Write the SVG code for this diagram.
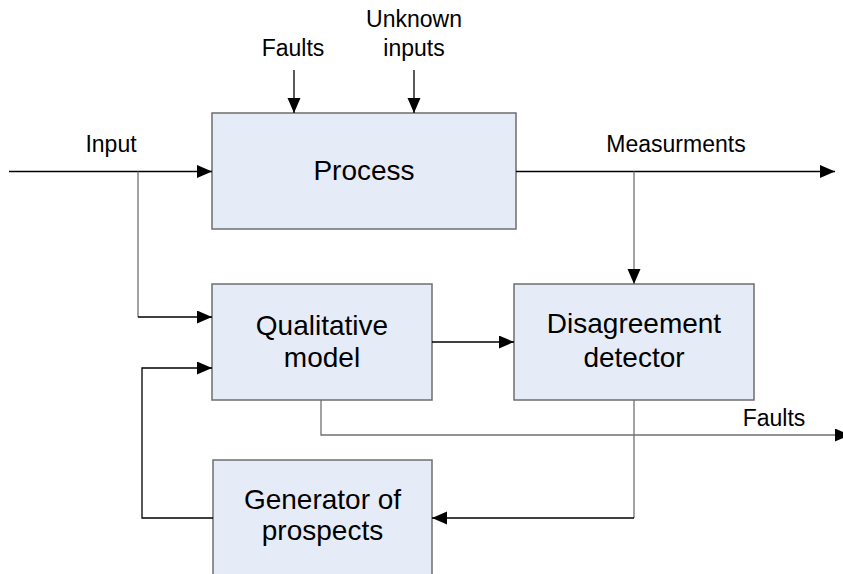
<svg xmlns="http://www.w3.org/2000/svg" width="843" height="574" viewBox="0 0 843 574">
<defs>
<marker id="arr" markerUnits="userSpaceOnUse" markerWidth="16" markerHeight="14" refX="15" refY="6.5" orient="auto">
<path d="M0,0 L15,6.5 L0,13 z" fill="#000"/>
</marker>
</defs>
<style>
.box{fill:#E6ECF7;stroke:#6E6E6E;stroke-width:1.5}
.bl{font-family:"Liberation Sans",Arial,sans-serif;font-size:28px;fill:#000;text-anchor:middle}
.el{font-family:"Liberation Sans",Arial,sans-serif;font-size:23px;fill:#000;text-anchor:middle}
.k{fill:none;stroke:#000;stroke-width:1.3}
.g{fill:none;stroke:#707070;stroke-width:1.3}
</style>
<rect width="843" height="574" fill="#fff"/>
<g id="process">
<rect class="box" x="212" y="113" width="304" height="116"/>
<text class="bl" x="364" y="180">Process</text>
</g>
<g id="qualitative-model">
<rect class="box" x="212" y="284" width="220" height="116"/>
<text class="bl" x="322" y="335">Qualitative</text>
<text class="bl" x="322" y="367">model</text>
</g>
<g id="disagreement-detector">
<rect class="box" x="514" y="284" width="240" height="116"/>
<text class="bl" x="634" y="333">Disagreement</text>
<text class="bl" x="634" y="367">detector</text>
</g>
<g id="generator-of-prospects">
<rect class="box" x="213" y="460" width="219" height="130"/>
<text class="bl" x="322.5" y="509">Generator of</text>
<text class="bl" x="322.5" y="540">prospects</text>
</g>
<g id="connectors">
<path class="k" d="M9,171.5 H212" marker-end="url(#arr)"/>
<path class="g" d="M138,171.5 V317"/>
<path class="k" d="M138,317 H212" marker-end="url(#arr)"/>
<path class="k" d="M294,70 V113" marker-end="url(#arr)"/>
<path class="k" d="M414,70 V113" marker-end="url(#arr)"/>
<path class="k" d="M516,171.5 H835" marker-end="url(#arr)"/>
<path class="g" d="M634,171.5 V284" marker-end="url(#arr)"/>
<path class="k" d="M432,342 H514" marker-end="url(#arr)"/>
<path class="g" d="M321,400 V435 H850" marker-end="url(#arr)"/>
<path class="g" d="M634,400 V518"/>
<path class="k" d="M634,518 H432" marker-end="url(#arr)"/>
<path class="k" d="M213,518 H142 V368 H212" marker-end="url(#arr)"/>
</g>
<g id="labels">
<text class="el" x="111" y="152">Input</text>
<text class="el" x="293" y="56">Faults</text>
<text class="el" x="414" y="27">Unknown</text>
<text class="el" x="414" y="56">inputs</text>
<text class="el" x="676" y="152">Measurments</text>
<text class="el" x="774" y="426">Faults</text>
</g>
</svg>
